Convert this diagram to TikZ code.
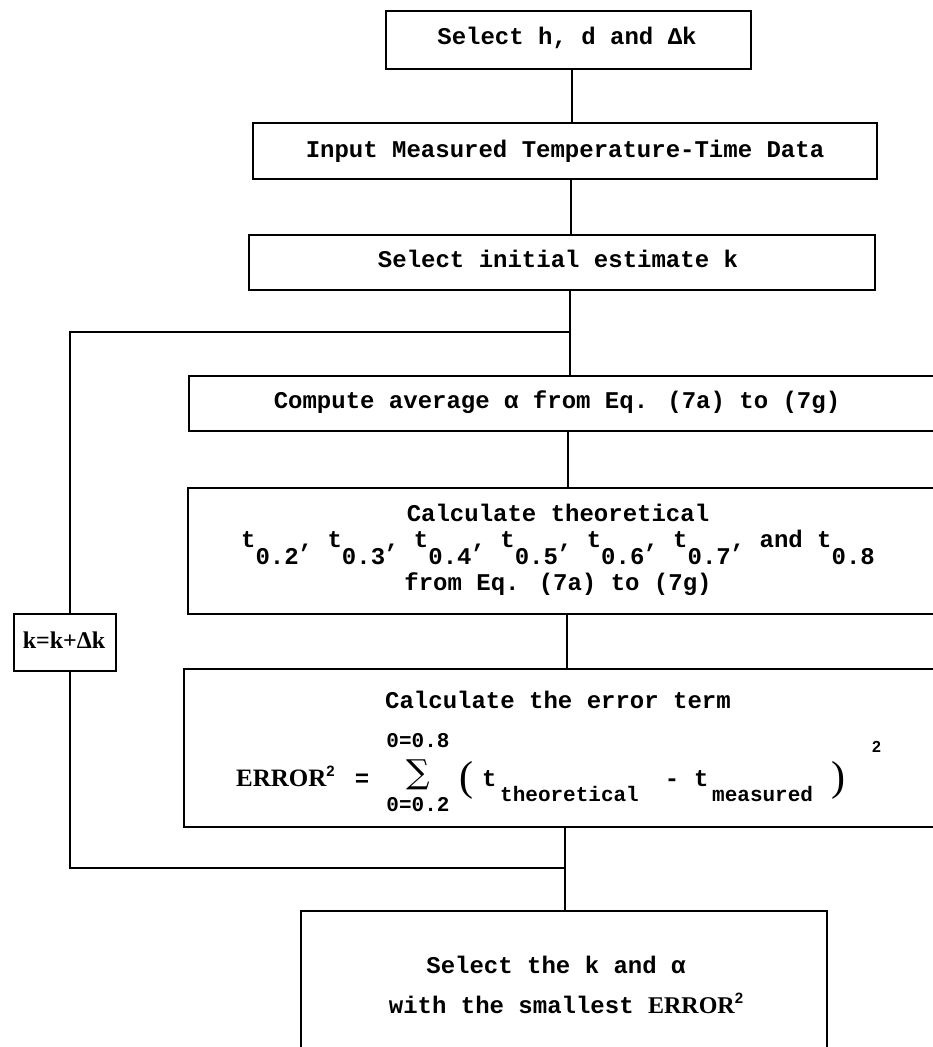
\documentclass[tikz,border=0pt]{standalone}
\usepackage{fontspec}
\setmainfont{Liberation Mono}
\newfontfamily\serifbf{Liberation Serif}
\newfontfamily\sansf{Liberation Sans}
\newfontfamily\sumfont{DejaVu Serif}
\newcommand{\tsb}[1]{t\raisebox{-17pt}{#1}}
\newcommand{\supii}[1]{\raisebox{#1}{\sansf\bfseries\fontsize{15}{15}\selectfont 2}}
\begin{document}
\begin{tikzpicture}[x=1pt,y=-1pt,
  box/.style={draw, line width=1.6pt, inner sep=0pt, anchor=north west},
  txt/.style={inner sep=0pt, anchor=base, font=\fontsize{24}{28}\selectfont\bfseries},
  small/.style={inner sep=0pt, anchor=base, font=\fontsize{21}{22}\selectfont\bfseries},
  lnk/.style={line width=1.6pt},
]
\useasboundingbox (0,0) rectangle (933,1047);
\clip (0,0) rectangle (933,1047);

% boxes
\node[box, minimum width=365pt, minimum height=58pt] (b1) at (385,10) {};
\node[box, minimum width=624pt, minimum height=56pt] (b2) at (252,122) {};
\node[box, minimum width=626pt, minimum height=55pt] (b3) at (248,234) {};
\node[box, minimum width=757pt, minimum height=55pt] (comp) at (188,375) {};
\node[box, minimum width=758pt, minimum height=126pt] (theo) at (187,487) {};
\node[box, minimum width=762pt, minimum height=158pt] (err) at (183,668) {};
\node[box, minimum width=526pt, minimum height=160pt] (fin) at (300,910) {};
\node[box, minimum width=102pt, minimum height=57pt] (kb) at (13,613) {};

% texts
\node[txt] (t1) at (567,44) {Select h, d and Δk};
\node[txt] (t2) at (565,157) {Input Measured Temperature-Time Data};
\node[txt] (t3) at (558,267) {Select initial estimate k};
\node[txt] (t4) at (557,408) {Compute average α from Eq. (7a) to (7g)};
\node[txt] (t5a) at (558,521) {Calculate theoretical};
\node[txt] (t5b) at (558,547) {\tsb{0.2}, \tsb{0.3}, \tsb{0.4}, \tsb{0.5}, \tsb{0.6}, \tsb{0.7}, and \tsb{0.8}};
\node[txt] (t5c) at (558,590) {from Eq. (7a) to (7g)};
\node[txt] (t6) at (558,708) {Calculate the error term};
\node[txt] (t7a) at (556,973) {Select the k and α};
\node[txt] (t7b) at (566,1013) {with the smallest {\serifbf ERROR}\supii{10pt}};
\node[txt] (tk) at (64,648) {\serifbf k=k+Δk};

% formula
\node[txt, anchor=base west] (ferr) at (236,786) {\serifbf\fontsize{25}{28}\selectfont ERROR\supii{10pt}};
\node[txt] (feq) at (362,786) {=};
\node[inner sep=0pt, font=\sumfont\fontsize{33}{33}\selectfont] (fsum) at (418,775) {∑};
\node[small] (fup) at (418,747) {0=0.8};
\node[small] (flo) at (418,811) {0=0.2};
\node[inner sep=0pt, font=\serifbf\fontsize{42}{42}\selectfont] (flp) at (466,780) {(};
\node[txt, anchor=base west] (ft1) at (482,786) {t};
\node[small, anchor=base west] (fs1) at (500,801) {theoretical};
\node[txt] (fmin) at (672,786) {-};
\node[txt, anchor=base west] (ft2) at (694,786) {t};
\node[small, anchor=base west] (fs2) at (712,801) {measured};
\node[inner sep=0pt, font=\serifbf\fontsize{42}{42}\selectfont] (frp) at (838,780) {)};
\node[inner sep=0pt, anchor=base west, font=\sansf\bfseries\fontsize{16}{16}\selectfont] (fsq) at (872,752) {2};

% connectors
\coordinate (x1) at (572,0);
\coordinate (x2) at (571,0);
\coordinate (j1) at (570,332);
\coordinate (x4) at (568,0);
\coordinate (x5) at (567,0);
\coordinate (j2) at (565,868);
\coordinate (lt) at (70,332);
\coordinate (lb) at (70,868);

\draw[lnk] (b1.south -| x1) -- (b2.north -| x1);
\draw[lnk] (b2.south -| x2) -- (b3.north -| x2);
\draw[lnk] (b3.south -| j1) -- (comp.north -| j1);
\draw[lnk] (comp.south -| x4) -- (theo.north -| x4);
\draw[lnk] (theo.south -| x5) -- (err.north -| x5);
\draw[lnk] (err.south -| j2) -- (fin.north -| j2);
\draw[lnk] (j1) -- (lt) -- (kb.north -| lt);
\draw[lnk] (kb.south -| lb) -- (lb) -- (j2);
\end{tikzpicture}
\end{document}
